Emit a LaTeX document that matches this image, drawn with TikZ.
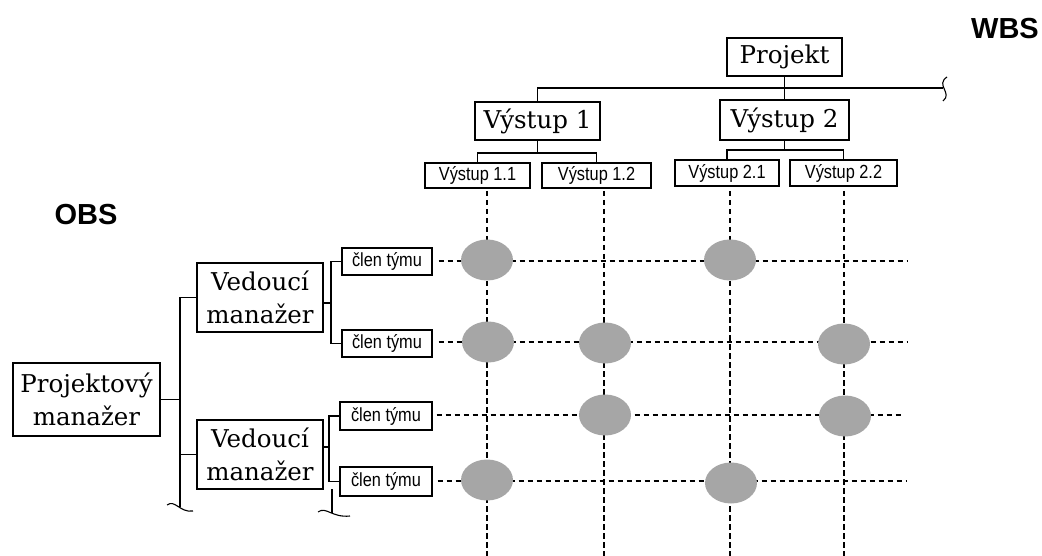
\documentclass[tikz,border=0pt]{standalone}
\usepackage{fontspec}
\setmainfont{DejaVu Serif}
\newfontfamily\condfont[FakeStretch=0.86]{Liberation Sans}
\newfontfamily\headfont{Liberation Sans}
\usetikzlibrary{shapes.geometric}
\definecolor{dotgray}{HTML}{A6A6A6}
\tikzset{
  bigbox/.style={draw, line width=1.1pt, inner sep=0pt, align=center,
    font=\fontsize{24.5}{33}\selectfont},
  smallbox/.style={draw, line width=1.1pt, inner sep=0pt,
    font=\condfont\fontsize{19}{22}\selectfont},
  link/.style={line width=1.2pt},
  grid/.style={line width=1.2pt, dash pattern=on 5.5pt off 3.5pt},
  hit/.style={ellipse, fill=dotgray, draw=none, minimum width=52pt,
    minimum height=41pt, inner sep=0pt},
  heading/.style={font=\headfont\bfseries\fontsize{29}{32}\selectfont},
  brk/.style={line width=1.1pt},
}
\begin{document}
\begin{tikzpicture}[x=1pt,y=-1pt]
\useasboundingbox (0,0) rectangle (1042,556);

% headings
\node[heading] (wbs) at (1005,29) {WBS};
\node[heading] (obs) at (86,215) {OBS};

% work breakdown structure
\node[bigbox, minimum width=115pt, minimum height=38pt] (P) at (784.5,57) {Projekt};
\node[bigbox, minimum width=125pt, minimum height=38pt] (V1) at (537.5,121) {Výstup 1};
\node[bigbox, minimum width=129pt, minimum height=40pt] (V2) at (784.5,120) {Výstup 2};
\node[smallbox, minimum width=105pt, minimum height=25pt] (V11) at (477.5,175.5) {Výstup 1.1};
\node[smallbox, minimum width=109pt, minimum height=25pt] (V12) at (596.5,175.5) {Výstup 1.2};
\node[smallbox, minimum width=104pt, minimum height=26pt] (V21) at (727,173) {Výstup 2.1};
\node[smallbox, minimum width=107pt, minimum height=26pt] (V22) at (843.5,173) {Výstup 2.2};

\coordinate (wend) at (943,88);
\draw[link] (V1.north) |- (wend);
\draw[link] (P.south) -- (V2.north);
\draw[brk] (947,77) .. controls (935,85) and (953,93) .. (943,101);

\coordinate (j1) at (537.5,153);
\draw[link] (V1.south) -- (j1);
\draw[link] (V11.north) |- (j1) -| (V12.north);
\coordinate (j2) at (784.5,150);
\draw[link] (V2.south) -- (j2);
\draw[link] (V21.north) |- (j2) -| (V22.north);

% organisational breakdown structure
\node[bigbox, minimum width=147pt, minimum height=73pt] (PM) at (86.5,399.5) {Projektový\\manažer};
\node[bigbox, minimum width=126pt, minimum height=69pt] (VM1) at (260,297.5) {Vedoucí\\manažer};
\node[bigbox, minimum width=126pt, minimum height=69pt] (VM2) at (260,454.5) {Vedoucí\\manažer};
\node[smallbox, minimum width=90pt, minimum height=27pt] (C1) at (387,261.5) {člen týmu};
\node[smallbox, minimum width=90pt, minimum height=27pt] (C2) at (387,343.5) {člen týmu};
\node[smallbox, minimum width=92pt, minimum height=28pt] (C3) at (386,416) {člen týmu};
\node[smallbox, minimum width=92pt, minimum height=29pt] (C4) at (386,481.5) {člen týmu};

\coordinate (pmj) at (180,399.5);
\coordinate (pmend) at (180,507);
\draw[link] (PM.east) -- (pmj);
\draw[link] (VM1.west) -| (pmend);
\draw[link] (VM2.west) -- (VM2.west -| pmj);
\draw[brk] (167,505) .. controls (175,499) and (180,513) .. (193,511);

\coordinate (m1j) at (331,303);
\draw[link] (VM1.east |- m1j) -- (m1j);
\draw[link] (C1.west) -| (m1j) |- (C2.west);
\coordinate (m2j) at (329,447);
\draw[link] (VM2.east |- m2j) -- (m2j);
\draw[link] (C3.west) -| (m2j) |- (C4.west);
\coordinate (m2a) at (332,489);
\coordinate (m2b) at (332,513);
\draw[link] (m2a) -- (m2b);
\draw[brk] (318,512) .. controls (326,506) and (332,518) .. (350,516);

% responsibility grid
\foreach \x/\n in {487/a,604/b,730/c,844/d}{
  \coordinate (top\n) at (\x,191);
  \coordinate (bot\n) at (\x,556);
  \draw[grid] (top\n) -- (bot\n);
}
\coordinate (r1) at (908,261);
\coordinate (r2) at (908,342);
\coordinate (r3) at (904,415);
\coordinate (r4) at (906,481);
\draw[grid] ([xshift=6pt]C1.east |- r1) -- (r1);
\draw[grid] ([xshift=6pt]C2.east |- r2) -- (r2);
\draw[grid] ([xshift=4pt]C3.east |- r3) -- (r3);
\draw[grid] ([xshift=5pt]C4.east |- r4) -- (r4);

\node[hit] (h11) at (487,260) {};
\node[hit] (h13) at (730,260) {};
\node[hit] (h21) at (488,342) {};
\node[hit] (h22) at (605,343) {};
\node[hit] (h24) at (844,344) {};
\node[hit] (h32) at (605,415) {};
\node[hit] (h34) at (845,416) {};
\node[hit] (h41) at (487,480) {};
\node[hit] (h43) at (731,483) {};
\end{tikzpicture}
\end{document}
